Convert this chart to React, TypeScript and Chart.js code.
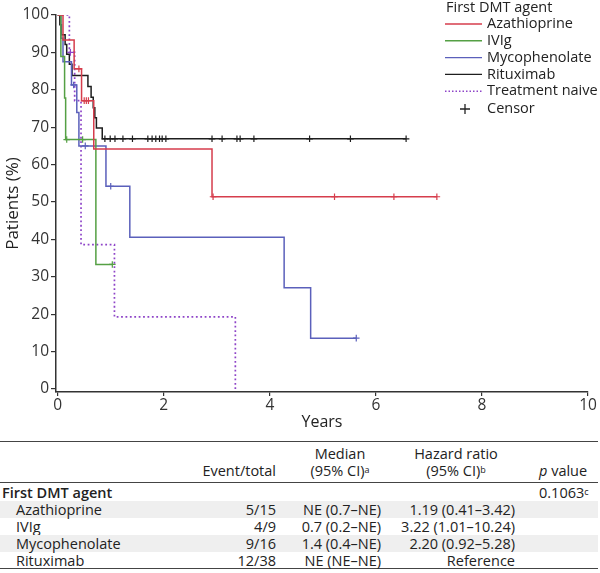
import React, { useEffect, useRef } from "react";
import { Chart, registerables } from "chart.js";

Chart.register(...registerables);

// ---------- data ----------
const xTicks = [0, 2, 4, 6, 8, 10];
const yTicks = [0, 10, 20, 30, 40, 50, 60, 70, 80, 90, 100];

const seriesNames = ["Azathioprine", "IVIg", "Mycophenolate", "Rituximab", "Treatment naive"];
const seriesColors = ["#d63d4c", "#55a044", "#5b60bb", "#1e1e1e", "#8e44c8"];
const legendTitle = "First DMT agent";
const censorLabel = "Censor";

const azaTimes = [0, 0.1, 0.31, 0.45, 0.68, 2.91, 7.15];
const azaSurv = [100, 93.3, 85.6, 77.1, 64.2, 51.4, 51.4];
const azaCensor = [0.4, 0.5, 0.54, 0.58, 2.93, 5.22, 6.34, 7.15];

const ivigTimes = [0, 0.06, 0.13, 0.15, 0.72, 1.03];
const ivigSurv = [100, 88.9, 77.8, 66.7, 33.3, 33.3];
const ivigCensor = [0.17, 0.47, 1.03];

const mycoTimes = [0, 0.06, 0.1, 0.26, 0.36, 0.4, 0.91, 1.36, 4.27, 4.77, 5.63];
const mycoSurv = [100, 93.8, 87.5, 81.3, 73.9, 65.0, 54.2, 40.6, 27.1, 13.6, 13.6];
const mycoCensor = [0.3, 0.52, 1.0, 5.63];

const rituxTimes = [0, 0.04, 0.07, 0.14, 0.17, 0.22, 0.27, 0.57, 0.63, 0.67, 0.7, 0.73, 0.84, 6.57];
const rituxSurv = [100, 97.4, 94.7, 92.1, 89.5, 86.8, 83.8, 80.9, 78.0, 75.2, 72.5, 69.8, 66.9, 66.9];
const rituxCensor = [0.89, 0.99, 1.08, 1.23, 1.41, 1.7, 1.78, 1.85, 1.92, 1.97, 2.04, 2.91, 3.1, 3.38, 3.44, 3.7, 4.75, 5.52, 6.57];

const naiveTimes = [0, 0.22, 0.32, 0.44, 1.07, 3.35];
const naiveSurv = [100, 90, 77.1, 38.6, 19.3, 0];
const naiveCensor = [0.24];

// table
const tableGroup = "First DMT agent";
const tableRows = ["Azathioprine", "IVIg", "Mycophenolate", "Rituximab"];
const tableEvents = ["5/15", "4/9", "9/16", "12/38"];
const tableMedian = ["NE (0.7–NE)", "0.7 (0.2–NE)", "1.4 (0.4–NE)", "NE (NE–NE)"];
const tableHR = ["1.19 (0.41–3.42)", "3.22 (1.01–10.24)", "2.20 (0.92–5.28)", "Reference"];
const pValue = "0.1063";

// ---------- helpers ----------
const allTimes = [azaTimes, ivigTimes, mycoTimes, rituxTimes, naiveTimes];
const allSurv = [azaSurv, ivigSurv, mycoSurv, rituxSurv, naiveSurv];
const allCensor = [azaCensor, ivigCensor, mycoCensor, rituxCensor, naiveCensor];

function stepAt(times: number[], surv: number[], t: number) {
  let v = surv[0];
  for (let i = 0; i < times.length; i++) if (times[i] <= t) v = surv[i];
  return v;
}

const FONT = '"Open Sans", "Noto Sans", sans-serif';

const legendPlugin = {
  id: "kmLegend",
  afterDraw(chart: any) {
    const ctx = chart.ctx;
    ctx.save();
    ctx.font = `14.5px ${FONT}`;
    ctx.fillStyle = "#222";
    ctx.textBaseline = "middle";
    ctx.textAlign = "left";
    ctx.fillText(legendTitle, 446, 8);
    seriesNames.forEach((name, i) => {
      const y = 24 + i * 16.8;
      ctx.strokeStyle = seriesColors[i];
      ctx.lineWidth = 1.4;
      ctx.setLineDash(i === 4 ? [1.5, 2] : []);
      ctx.beginPath();
      ctx.moveTo(445, y);
      ctx.lineTo(482, y);
      ctx.stroke();
      ctx.fillText(name, 487, y);
    });
    ctx.setLineDash([]);
    const cy = 24 + 5 * 16.8 + 1;
    ctx.strokeStyle = "#222";
    ctx.lineWidth = 1.3;
    ctx.beginPath();
    ctx.moveTo(460, cy);
    ctx.lineTo(470, cy);
    ctx.moveTo(465, cy - 5);
    ctx.lineTo(465, cy + 5);
    ctx.stroke();
    ctx.fillText(censorLabel, 487, cy);
    ctx.restore();
  },
};

function KMChart() {
  const ref = useRef<HTMLCanvasElement>(null);
  useEffect(() => {
    const lineSets = seriesNames.map((name, i) => ({
      type: "line" as const,
      label: name,
      data: allTimes[i].map((t, j) => ({ x: t, y: allSurv[i][j] })),
      borderColor: seriesColors[i],
      borderWidth: i === 4 ? 1.7 : 1.5,
      borderDash: i === 4 ? [1.8, 2.6] : [],
      stepped: "before" as const,
      pointRadius: 0,
      fill: false,
    }));
    const censorSets = seriesNames.map((name, i) => ({
      type: "line" as const,
      label: name + " censor",
      data: allCensor[i].map((t) => ({ x: t, y: stepAt(allTimes[i], allSurv[i], t) })),
      borderColor: seriesColors[i],
      backgroundColor: seriesColors[i],
      showLine: false,
      pointStyle: "cross" as const,
      pointRadius: 3.3,
      pointBorderWidth: 1.2,
    }));
    const chart = new Chart(ref.current!, {
      type: "line",
      data: { datasets: [...censorSets, ...lineSets] as any },
      options: {
        animation: false,
        responsive: false,
        maintainAspectRatio: false,
        layout: { padding: { top: 15, right: 12, left: 0, bottom: 0 } },
        plugins: { legend: { display: false }, tooltip: { enabled: false } },
        scales: {
          x: {
            type: "linear",
            min: -0.032,
            max: 10,
            afterBuildTicks: (s: any) => {
              s.ticks = xTicks.map((v) => ({ value: v }));
            },
            afterFit: (s: any) => {
              s.height = 40;
            },
            ticks: { color: "#333", font: { family: FONT, size: 15.5 }, padding: 0, maxRotation: 0 },
            grid: { drawOnChartArea: false, drawTicks: true, tickLength: 4, color: "#333", lineWidth: 1.2 },
            border: { display: true, color: "#333", width: 1.5 },
            title: { display: true, text: "Years", color: "#222", font: { family: FONT, size: 16 }, padding: { top: 0, bottom: 0 } },
          },
          y: {
            type: "linear",
            min: -0.8,
            max: 100,
            afterBuildTicks: (s: any) => {
              s.ticks = yTicks.map((v) => ({ value: v }));
            },
            afterFit: (s: any) => {
              s.width = 56;
            },
            ticks: { color: "#333", font: { family: FONT, size: 15.5 }, padding: 2 },
            grid: { drawOnChartArea: false, drawTicks: true, tickLength: 5, color: "#333", lineWidth: 1.2 },
            border: { display: true, color: "#333", width: 1.5 },
            title: { display: true, text: "Patients (%)", color: "#222", font: { family: FONT, size: 17 }, padding: { top: 3, bottom: 0 } },
          },
        },
      },
      plugins: [legendPlugin],
    });
    return () => chart.destroy();
  }, []);
  return <canvas ref={ref} width={600} height={432} style={{ position: "absolute", left: 0, top: 0, width: 600, height: 432 }} />;
}

const cell = (style: React.CSSProperties, content: React.ReactNode, key?: any) => (
  <div key={key} style={{ position: "absolute", whiteSpace: "nowrap", ...style }}>
    {content}
  </div>
);

function ResultsTable() {
  const rowH = 17;
  const firstTop = 483.5;
  const sup = (s: string) => <sup style={{ fontSize: 9, verticalAlign: "top", position: "relative", top: -1 }}>{s}</sup>;
  const els: React.ReactNode[] = [];
  els.push(<div key="r1" style={{ position: "absolute", left: 0, width: 598, top: 440.5, borderTop: "1.6px solid #444" }} />);
  els.push(<div key="r2" style={{ position: "absolute", left: 0, width: 598, top: 482, borderTop: "1.3px solid #444" }} />);
  els.push(<div key="r3" style={{ position: "absolute", left: 0, width: 598, top: 568, borderTop: "1.6px solid #444" }} />);
  const lh = 17;
  els.push(cell({ right: 600 - 276, top: 461.5, lineHeight: lh + "px", textAlign: "right" }, "Event/total", "h1"));
  els.push(cell({ left: 285, width: 110, top: 444.5, lineHeight: lh + "px", textAlign: "center" }, <>Median<br />(95% CI){sup("a")}</>, "h2"));
  els.push(cell({ left: 400, width: 112, top: 444.5, lineHeight: lh + "px", textAlign: "center" }, <>Hazard ratio<br />(95% CI){sup("b")}</>, "h3"));
  els.push(cell({ left: 539, top: 461.5, lineHeight: lh + "px" }, <><i>p</i> value</>, "h4"));
  els.push(cell({ left: 2, top: firstTop, lineHeight: rowH + "px", fontWeight: 600 }, tableGroup, "g"));
  els.push(cell({ left: 539, top: firstTop, lineHeight: rowH + "px" }, <>{pValue}{sup("c")}</>, "p"));
  tableRows.forEach((name, i) => {
    const top = firstTop + rowH * (i + 1);
    if (i % 2 === 0)
      els.push(<div key={"bg" + i} style={{ position: "absolute", left: 0, width: 598, top, height: rowH, background: "#efefef" }} />);
    els.push(cell({ left: 16, top, lineHeight: rowH + "px" }, name, "n" + i));
    els.push(cell({ right: 600 - 276, top, lineHeight: rowH + "px", textAlign: "right" }, tableEvents[i], "e" + i));
    els.push(cell({ right: 600 - 381, top, lineHeight: rowH + "px", textAlign: "right" }, tableMedian[i], "m" + i));
    els.push(cell({ right: 600 - 515, top, lineHeight: rowH + "px", textAlign: "right" }, tableHR[i], "hr" + i));
  });
  return <>{els}</>;
}

export default function App() {
  return (
    <div style={{ position: "absolute", left: 0, top: 0, width: 600, height: 573, background: "#fff", fontFamily: FONT, fontSize: 14.5, color: "#222", overflow: "hidden" }}>
      <KMChart />
      <ResultsTable />
    </div>
  );
}
